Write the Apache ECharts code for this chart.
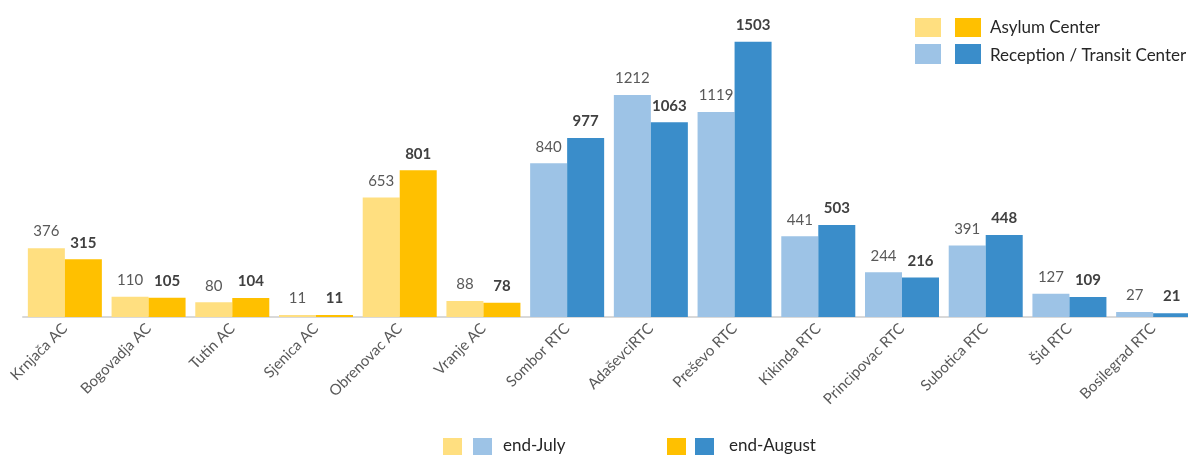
<!DOCTYPE html>
<html>
<head>
<meta charset="utf-8">
<script src="https://cdn.jsdelivr.net/npm/echarts@6/dist/echarts.min.js"></script>
<style>
  html, body { margin: 0; padding: 0; background: #fff; }
  #chart { width: 1188px; height: 455px; }
</style>
</head>
<body>
<div id="chart"></div>
<script>
const categories = ["Krnjača AC", "Bogovadja AC", "Tutin AC", "Sjenica AC", "Obrenovac AC", "Vranje AC",
  "Sombor RTC", "AdaševciRTC", "Preševo RTC", "Kikinda RTC", "Principovac RTC", "Subotica RTC", "Šid RTC", "Bosilegrad RTC"];
const endJuly = [376, 110, 80, 11, 653, 88, 840, 1212, 1119, 441, 244, 391, 127, 27];
const endAugust = [315, 105, 104, 11, 801, 78, 977, 1063, 1503, 503, 216, 448, 109, 21];
const isAsylum = [true, true, true, true, true, true, false, false, false, false, false, false, false, false];

const colors = {
  acLight: "#FFDF80", acDark: "#FFC000",
  rtcLight: "#9DC3E6", rtcDark: "#3A8DCA"
};
const font = "Lato, 'Open Sans', sans-serif";

const chart = echarts.init(document.getElementById("chart"));

function rect(x, y, w, h, color) {
  return { type: "rect", shape: { x: x, y: y, width: w, height: h }, style: { fill: color } };
}
function label(x, y, txt) {
  return { type: "text", x: x, y: y, style: { text: txt, font: "17px " + font, fill: "#262626", verticalAlign: "middle" } };
}

chart.setOption({
  animation: false,
  grid: { left: 23, right: -7, top: 24, bottom: 138, outerBoundsMode: "none", containLabel: false },
  xAxis: {
    type: "category",
    data: categories,
    axisLine: { lineStyle: { color: "#D9D9D9", width: 2 } },
    axisTick: { show: false },
    axisLabel: { rotate: 45, interval: 0, color: "#595959", fontSize: 15, fontFamily: font, margin: 9 }
  },
  yAxis: { type: "value", min: 0, max: 1600, show: false, splitLine: { show: false } },
  series: [
    {
      name: "end-July",
      type: "bar",
      barGap: "0%",
      barCategoryGap: "11.6%",
      data: endJuly.map((v, i) => ({ value: v, itemStyle: { color: isAsylum[i] ? colors.acLight : colors.rtcLight } })),
      label: { show: true, position: "top", distance: 9, color: "#595959", fontSize: 15, fontFamily: font }
    },
    {
      name: "end-August",
      type: "bar",
      data: endAugust.map((v, i) => ({ value: v, itemStyle: { color: isAsylum[i] ? colors.acDark : colors.rtcDark } })),
      label: { show: true, position: "top", distance: 9, color: "#404040", fontSize: 15, fontWeight: "bold", fontFamily: font }
    }
  ],
  graphic: [
    rect(915, 18, 26, 19, colors.acLight),
    rect(955, 18, 26, 19, colors.acDark),
    label(990, 28, "Asylum Center"),
    rect(915, 44, 26, 20, colors.rtcLight),
    rect(955, 44, 26, 20, colors.rtcDark),
    label(990, 56, "Reception / Transit Center"),
    rect(443, 438, 19, 17, colors.acLight),
    rect(473, 438, 19, 17, colors.rtcLight),
    label(503, 446, "end-July"),
    rect(667, 438, 19, 17, colors.acDark),
    rect(695, 438, 19, 17, colors.rtcDark),
    label(729, 446, "end-August")
  ]
});
</script>
</body>
</html>
